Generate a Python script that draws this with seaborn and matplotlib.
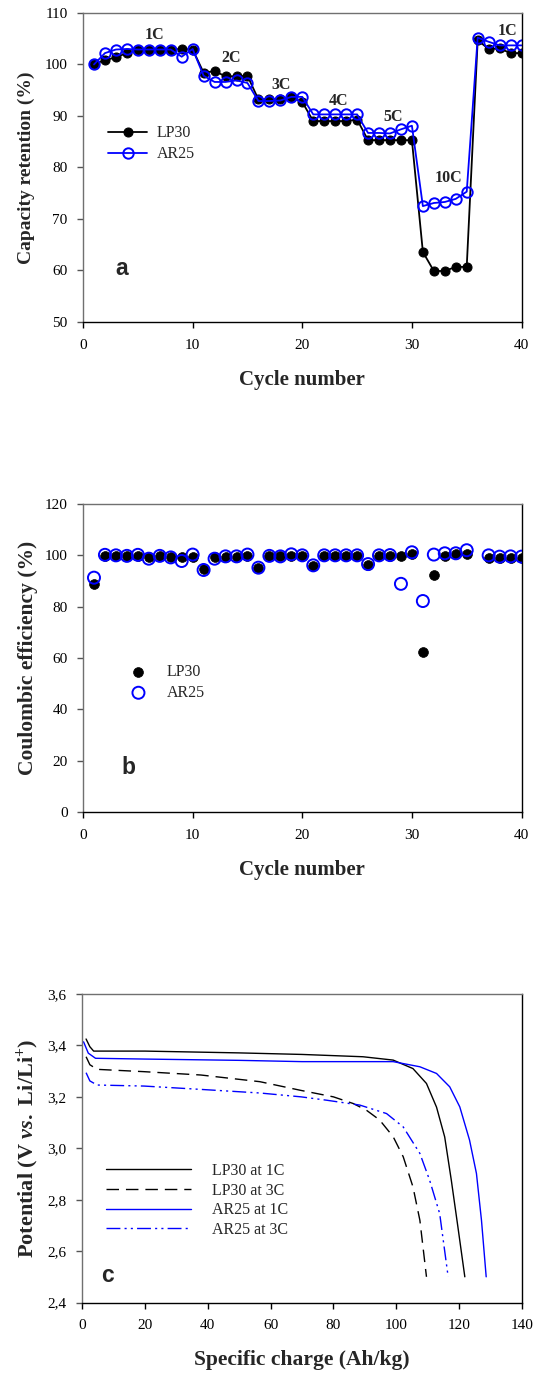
import numpy as np
import matplotlib
matplotlib.use("Agg")
import matplotlib.pyplot as plt
from matplotlib.ticker import FuncFormatter
import seaborn as sns

# ---- panel a: capacity retention ----
cycles = list(range(1, 41))
lp30_cap = [100.1, 100.8, 101.4, 102.2, 102.9, 102.9, 102.9, 102.9, 103.0, 102.9,
            98.4, 98.7, 97.7, 97.7, 97.8, 93.2, 93.2, 93.2, 93.6, 92.7,
            89.0, 89.0, 89.0, 89.0, 89.3, 85.3, 85.3, 85.3, 85.3, 85.3,
            63.6, 59.9, 59.9, 60.7, 60.7, 104.7, 103.0, 103.1, 102.2, 102.2]
ar25_cap = [100.0, 102.2, 102.9, 103.0, 102.9, 102.9, 102.9, 102.9, 101.5, 103.0,
            97.8, 96.6, 96.6, 96.9, 96.4, 92.9, 92.9, 93.0, 93.7, 93.7,
            90.3, 90.3, 90.3, 90.3, 90.3, 86.7, 86.7, 86.6, 87.4, 88.1,
            72.5, 73.1, 73.3, 73.9, 75.3, 105.2, 104.4, 103.7, 103.7, 103.7]
rate_labels = ["1C", "2C", "3C", "4C", "5C", "10C", "1C"]
rate_x = [6.5, 13.5, 18.1, 23.3, 28.3, 33.3, 38.7]
rate_y = [105.8, 101.3, 96.1, 92.9, 89.8, 78.0, 106.4]

# ---- panel b: coulombic efficiency (no point at cycle 36) ----
cycles_b = list(range(1, 36)) + list(range(37, 41))
lp30_ce = [88.9, 99.8, 99.8, 99.6, 99.8, 99.2, 99.6, 99.3, 99.2, 99.4,
           94.6, 99.2, 99.5, 99.5, 99.6, 95.2, 99.6, 99.6, 99.7, 99.6,
           95.9, 99.8, 99.8, 99.8, 99.8, 96.3, 99.8, 99.8, 99.6, 100.5,
           62.3, 92.5, 99.9, 100.5, 100.4, 99.1, 99.1, 99.1, 99.1]
ar25_ce = [91.3, 100.2, 100.0, 99.8, 100.2, 98.7, 99.8, 99.2, 97.8, 100.3,
           94.3, 98.7, 99.6, 99.6, 100.3, 95.2, 99.8, 99.6, 100.4, 100.0,
           96.1, 100.0, 100.0, 100.0, 100.0, 96.6, 100.0, 100.1, 88.9, 101.2,
           82.2, 100.3, 100.8, 100.8, 102.0, 100.0, 99.5, 99.6, 99.5]

# ---- panel c: discharge curves ----
lp30_1c_q = [1.3, 2.5, 3.7, 20, 50, 70, 89.4, 99, 105.3, 109.6, 112.8, 115.4, 117.5, 119.6, 121.8]
lp30_1c_v = [3.425, 3.395, 3.378, 3.378, 3.371, 3.365, 3.356, 3.343, 3.31, 3.252, 3.16, 3.044, 2.876, 2.694, 2.5]
lp30_3c_q = [1.3, 2.5, 4.8, 19.7, 37.8, 56.6, 69.7, 80, 86.3, 90.5, 94.7, 99, 102.2, 105.3, 107.5, 109.6]
lp30_3c_v = [3.356, 3.325, 3.307, 3.298, 3.285, 3.259, 3.225, 3.2, 3.174, 3.148, 3.11, 3.045, 2.967, 2.85, 2.72, 2.5]
ar25_1c_q = [0.5, 2, 4.3, 20, 50, 70, 99, 107.5, 112.8, 117, 120.2, 123.3, 125.5, 127.1, 128.6]
ar25_1c_v = [3.414, 3.37, 3.35, 3.347, 3.342, 3.337, 3.337, 3.317, 3.291, 3.239, 3.161, 3.032, 2.902, 2.72, 2.5]
ar25_3c_q = [1.3, 2.5, 4.8, 19.7, 37.8, 56.6, 69.7, 77.8, 88.4, 96.9, 102.2, 107.5, 110.6, 113.8, 116.5]
ar25_3c_v = [3.294, 3.262, 3.246, 3.242, 3.229, 3.215, 3.2, 3.187, 3.168, 3.135, 3.083, 2.98, 2.876, 2.746, 2.5]

sns.set_theme(style="ticks")
plt.rcParams["font.family"] = ["Liberation Serif", "DejaVu Serif"]
plt.rcParams["mathtext.fontset"] = "custom"
plt.rcParams["mathtext.rm"] = "Liberation Serif:bold"
plt.rcParams["mathtext.bf"] = "Liberation Serif:bold"
plt.rcParams["mathtext.it"] = "Liberation Serif:italic:bold"

TICK = 11
LAB = 15
LEG = 11.5
BLUE = "#0000ff"

fig = plt.figure(figsize=(5.37, 13.76), dpi=100)
ax_a = fig.add_axes([0.1546, 0.766, 0.8166, 0.2246])
ax_b = fig.add_axes([0.1546, 0.4099, 0.8166, 0.2238])
ax_c = fig.add_axes([0.1527, 0.0534, 0.8194, 0.2242])


def style_axes(ax):
    for side in ["left", "top"]:
        ax.spines[side].set_color("#707070")
    for side in ["bottom", "right"]:
        ax.spines[side].set_color("black")
    for s in ax.spines.values():
        s.set_linewidth(1.0)
        s.set_visible(True)
    ax.tick_params(direction="out", length=4, width=1, labelsize=TICK,
                   colors="black", pad=8)
    ax.tick_params(axis="y", colors="#555555", labelcolor="black", pad=7)
    ax.grid(False)


# panel a
sns.lineplot(x=cycles, y=lp30_cap, ax=ax_a, color="black", marker="o",
             markersize=6.5, markeredgecolor="black", linewidth=1.3,
             label="LP30")
sns.lineplot(x=cycles, y=ar25_cap, ax=ax_a, color=BLUE, marker="o",
             markersize=7.5, markerfacecolor="none", markeredgecolor=BLUE,
             markeredgewidth=1.4, linewidth=1.3, label="AR25")
for t, x, y in zip(rate_labels, rate_x, rate_y):
    ax_a.text(x, y, t, ha="center", va="center", fontsize=LEG, fontweight="bold")
ax_a.set_xlim(0, 40)
ax_a.set_ylim(50, 110)
ax_a.set_xticks(range(0, 41, 10))
ax_a.set_yticks(range(50, 111, 10))
ax_a.set_xlabel("Cycle number", fontsize=LAB, fontweight="bold", labelpad=13)
ax_a.set_ylabel("Capacity retention (%)", fontsize=14, fontweight="bold", labelpad=7)
ax_a.legend(loc="upper left", bbox_to_anchor=(0.058, 0.636), frameon=False,
            fontsize=LEG, handlelength=2.4, handletextpad=0.6,
            labelspacing=0.3, borderpad=0, borderaxespad=0)
ax_a.text(0.089, 0.172, "a", transform=ax_a.transAxes, ha="center", va="center",
          fontsize=16.5, fontweight="bold", family="Liberation Sans")
style_axes(ax_a)

# panel b
sns.scatterplot(x=cycles_b, y=lp30_ce, ax=ax_b, color="black", s=50,
                edgecolor="black", linewidth=0.5, label="LP30", zorder=3)
sns.scatterplot(x=cycles_b, y=ar25_ce, ax=ax_b, facecolor="none",
                edgecolor=BLUE, s=75, linewidth=1.4, label="AR25", zorder=4)
ax_b.set_xlim(0, 40)
ax_b.set_ylim(0, 120)
ax_b.set_xticks(range(0, 41, 10))
ax_b.set_yticks(range(0, 121, 20))
ax_b.set_xlabel("Cycle number", fontsize=LAB, fontweight="bold", labelpad=13)
ax_b.set_ylabel("Coulombic efficiency (%)", fontsize=15.5, fontweight="bold", labelpad=5)
ax_b.legend(loc="upper left", bbox_to_anchor=(0.09, 0.48), frameon=False,
            fontsize=LEG, handlelength=2.0, handletextpad=0.75,
            labelspacing=0.3, borderpad=0, borderaxespad=0)
ax_b.text(0.103, 0.143, "b", transform=ax_b.transAxes, ha="center", va="center",
          fontsize=16.5, fontweight="bold", family="Liberation Sans")
style_axes(ax_b)

# panel c
sns.lineplot(x=lp30_1c_q, y=lp30_1c_v, ax=ax_c, sort=False, color="black",
             linewidth=1.0, label="LP30 at 1C")
sns.lineplot(x=lp30_3c_q, y=lp30_3c_v, ax=ax_c, sort=False, color="black",
             linewidth=1.0, linestyle=(0, (9, 5)), label="LP30 at 3C")
sns.lineplot(x=ar25_1c_q, y=ar25_1c_v, ax=ax_c, sort=False, color=BLUE,
             linewidth=1.0, label="AR25 at 1C")
sns.lineplot(x=ar25_3c_q, y=ar25_3c_v, ax=ax_c, sort=False, color=BLUE,
             linewidth=1.0, linestyle=(0, (10, 3, 1.5, 3, 1.5, 3)),
             label="AR25 at 3C")
ax_c.set_xlim(0, 140)
ax_c.set_ylim(2.4, 3.6)
ax_c.set_xticks(range(0, 141, 20))
ax_c.set_yticks(np.arange(2.4, 3.61, 0.2))
ax_c.yaxis.set_major_formatter(FuncFormatter(lambda v, p: f"{v:.1f}".replace(".", ",")))
ax_c.set_xlabel("Specific charge (Ah/kg)", fontsize=15.5, fontweight="bold", labelpad=13)
ax_c.set_ylabel(r"Potential (V $\mathit{vs.}$ Li/Li$^{+}$)", fontsize=16,
                fontweight="bold", labelpad=5)
ax_c.legend(loc="upper left", bbox_to_anchor=(0.055, 0.452), frameon=False,
            fontsize=LEG, handlelength=5.3, handletextpad=1.3,
            labelspacing=0.22, borderpad=0, borderaxespad=0)
ax_c.text(0.059, 0.086, "c", transform=ax_c.transAxes, ha="center", va="center",
          fontsize=16.5, fontweight="bold", family="Liberation Sans")
style_axes(ax_c)

fig.savefig("out.png", dpi=100)
